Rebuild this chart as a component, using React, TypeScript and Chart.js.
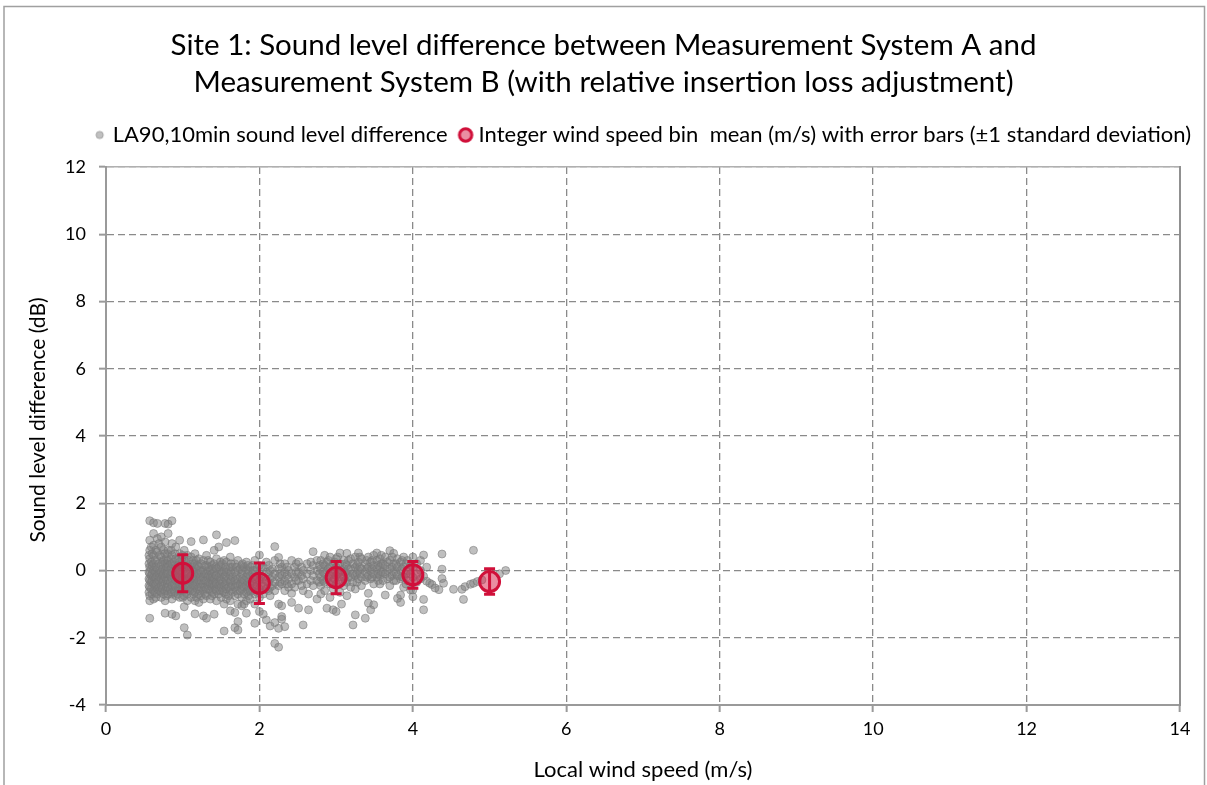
import React, { useEffect, useRef } from "react";
import { Chart, registerables } from "chart.js";

Chart.register(...registerables);

// ---- Data ----
const titleLines = [
  "Site 1: Sound level difference between Measurement System A and",
  "Measurement System B (with relative insertion loss adjustment)",
];
const scatterLabel = "LA90,10min sound level difference";
const meanLabel = "Integer wind speed bin  mean (m/s) with error bars (\u00b11 standard deviation)";
const xAxisTitle = "Local wind speed (m/s)";
const yAxisTitle = "Sound level difference (dB)";

const xTickValues = [0, 2, 4, 6, 8, 10, 12, 14];
const yTickValues = [-4, -2, 0, 2, 4, 6, 8, 10, 12];

// integer wind speed bins
const binCentres = [1, 2, 3, 4, 5];
const binMeans = [-0.08, -0.38, -0.21, -0.13, -0.33];
const binStdDev = [0.55, 0.6, 0.48, 0.4, 0.38];

// 10-minute samples: [wind speed, list of level differences at about that wind speed]
const samplesLowWind: [number, number[]][] = [
  [0.56, [0.45, 0.2, -0.05, -0.25, -0.45, -0.65]],
  [0.57, [1.48, 0.9, 0.6, 0.35, 0.1, -0.1, -0.3, -0.5, -0.75, -0.9, -1.42]],
  [0.59, [0.7, 0.25, 0.05, -0.15, -0.35, -0.55]],
  [0.6, [0.5, 0.15, -0.1, -0.3, -0.7]],
  [0.62, [1.42, 1.1, 0.75, 0.45, 0.2, 0.0, -0.2, -0.4, -0.6, -0.85]],
  [0.64, [0.3, -0.05, -0.25, -0.45, -0.65]],
  [0.65, [0.6, 0.1, -0.2, -0.4, -0.8]],
  [0.67, [1.4, 0.95, 0.55, 0.3, 0.05, -0.15, -0.35, -0.55, -0.7]],
  [0.69, [0.8, 0.2, -0.1, -0.3, -0.5]],
  [0.7, [0.45, 0.0, -0.2, -0.6]],
  [0.72, [1.0, 0.7, 0.4, 0.15, -0.05, -0.25, -0.45, -0.65, -0.8]],
  [0.74, [0.25, 0.05, -0.15, -0.35, -0.55]],
  [0.75, [0.6, 0.3, -0.1, -0.3, -0.7]],
  [0.77, [1.4, 0.85, 0.5, 0.2, 0.0, -0.2, -0.4, -0.6, -0.9, -1.27]],
  [0.79, [0.35, 0.1, -0.1, -0.3, -0.5, -0.75]],
  [0.8, [0.5, 0.2, -0.05, -0.4, -0.6]],
  [0.81, [1.38, 1.1, 0.6, 0.3, 0.1, -0.1, -0.3, -0.5, -0.7]],
  [0.84, [0.2, -0.15, -0.35, -0.55]],
  [0.85, [0.6, 0.35, 0.05, -0.2, -0.7]],
  [0.86, [1.48, 0.8, 0.45, 0.2, -0.05, -0.25, -0.45, -0.65, -0.85, -1.3]],
  [0.89, [0.25, 0.0, -0.2, -0.4, -0.6]],
  [0.9, [0.5, 0.15, -0.25, -0.45, -0.65]],
  [0.91, [0.7, 0.35, 0.1, -0.1, -0.3, -0.5, -0.75, -1.35]],
  [0.94, [0.15, -0.1, -0.3, -0.5, -0.7]],
  [0.95, [0.35, 0.05, -0.15, -0.55]],
  [0.96, [0.9, 0.5, 0.25, 0.0, -0.2, -0.4, -0.6, -0.8]],
  [0.99, [0.35, 0.1, -0.1, -0.3, -0.5]],
  [1.0, [0.45, 0.15, -0.2, -0.4, -0.6, -0.8]],
];

const samplesMidLowWind: [number, number[]][] = [
  [1.02, [0.6, 0.3, 0.05, -0.15, -0.35, -0.55, -0.75, -1.08, -1.7]],
  [1.04, [0.2, -0.05, -0.25, -0.45, -0.65]],
  [1.06, [0.45, 0.15, -0.1, -0.3, -0.5, -0.7, -0.9, -1.92]],
  [1.08, [0.3, 0.1, -0.3, -0.5]],
  [1.09, [0.05, -0.2, -0.4, -0.6]],
  [1.11, [0.86, 0.4, 0.1, -0.15, -0.35, -0.55, -0.8]],
  [1.13, [0.2, -0.1, -0.3, -0.6]],
  [1.14, [0.3, 0.0, -0.2, -0.45, -0.7]],
  [1.16, [0.5, 0.2, -0.05, -0.25, -0.45, -0.65, -0.9, -1.29]],
  [1.18, [0.3, 0.05, -0.2, -0.4, -0.8]],
  [1.19, [0.15, -0.1, -0.35, -0.55]],
  [1.21, [0.35, 0.1, -0.1, -0.3, -0.5, -0.7, -0.95]],
  [1.23, [0.0, -0.2, -0.4, -0.6]],
  [1.24, [0.2, -0.05, -0.3, -0.5, -0.75]],
  [1.27, [0.91, 0.3, 0.0, -0.2, -0.4, -0.6, -0.85, -1.35]],
  [1.29, [0.15, -0.1, -0.3, -0.5, -0.7]],
  [1.31, [0.45, 0.15, -0.1, -0.3, -0.55, -0.75, -1.42]],
  [1.33, [0.3, 0.0, -0.2, -0.45]],
  [1.34, [0.1, -0.15, -0.35, -0.55]],
  [1.36, [0.25, 0.0, -0.2, -0.4, -0.6, -0.85]],
  [1.38, [0.15, -0.1, -0.3, -0.5, -0.75]],
  [1.39, [0.05, -0.2, -0.4, -0.65]],
  [1.41, [0.6, 0.2, -0.05, -0.25, -0.45, -0.7, -1.3]],
  [1.43, [0.1, -0.15, -0.35, -0.55]],
  [1.44, [1.06, 0.35, 0.05, -0.15, -0.4, -0.6, -0.9]],
  [1.47, [0.7, 0.1, -0.2, -0.45, -0.7]],
  [1.49, [0.25, 0.0, -0.25, -0.4, -0.6]],
  [1.5, [0.15, -0.1, -0.3, -0.5, -0.8]],
  [1.52, [0.2, -0.05, -0.35, -0.6]],
  [1.54, [0.3, 0.0, -0.2, -0.45, -0.65, -1.0, -1.8]],
  [1.56, [0.1, -0.15, -0.4, -0.7]],
  [1.57, [0.83, 0.25, -0.05, -0.3, -0.55, -0.85]],
  [1.6, [0.0, -0.25, -0.5, -0.75]],
  [1.62, [0.4, 0.1, -0.15, -0.35, -0.6, -0.9, -1.2]],
  [1.63, [0.2, -0.05, -0.3, -0.5]],
  [1.65, [0.1, -0.2, -0.45, -0.65]],
  [1.68, [0.89, 0.2, -0.05, -0.3, -0.5, -0.75, -1.25, -1.7]],
  [1.7, [0.1, -0.15, -0.4, -0.6]],
  [1.72, [0.3, 0.0, -0.25, -0.45, -0.7, -1.0, -1.52, -1.77]],
  [1.75, [0.05, -0.2, -0.4, -0.6]],
  [1.77, [0.15, -0.1, -0.35, -0.55, -0.8, -1.05]],
  [1.78, [0.2, 0.0, -0.25, -0.45]],
  [1.8, [0.1, -0.3, -0.5, -0.7, -1.0]],
  [1.83, [0.25, 0.0, -0.2, -0.45, -0.65, -0.9, -1.27]],
  [1.85, [0.15, -0.1, -0.35, -0.6]],
  [1.86, [0.0, -0.25, -0.5, -0.75]],
  [1.88, [0.1, -0.15, -0.4, -0.6, -0.85]],
  [1.91, [0.15, -0.1, -0.35, -0.6]],
  [1.92, [0.0, -0.2, -0.4]],
  [1.94, [0.3, 0.0, -0.25, -0.5, -0.7, -1.0, -1.57]],
  [1.97, [0.05, -0.2, -0.45, -0.65]],
];

const samplesMidWind: [number, number[]][] = [
  [2.0, [0.46, 0.15, -0.1, -0.3, -0.55, -0.8, -1.22]],
  [2.02, [0.05, -0.2, -0.45]],
  [2.05, [0.1, -0.2, -0.45, -0.7, -1.3]],
  [2.09, [0.25, -0.05, -0.3, -0.55, -1.47]],
  [2.12, [0.15, -0.1, -0.35, -0.6]],
  [2.14, [0.0, -0.25, -0.5, -0.75, -1.65]],
  [2.17, [0.05, -0.2, -0.45]],
  [2.2, [0.71, 0.3, -0.1, -0.35, -0.6, -1.55, -2.17]],
  [2.25, [0.39, 0.05, -0.2, -0.45, -1.0, -1.72, -2.28]],
  [2.27, [0.2, -0.1, -0.35]],
  [2.29, [0.1, -0.15, -0.4, -1.05, -1.37, -1.45]],
  [2.33, [0.2, -0.05, -0.3, -0.6, -1.67]],
  [2.36, [0.1, -0.15, -0.4]],
  [2.38, [0.0, -0.25, -0.5]],
  [2.42, [0.3, -0.1, -0.4, -0.68, -0.95]],
  [2.46, [0.1, -0.2, -0.5]],
  [2.48, [0.2, -0.05, -0.3]],
  [2.51, [0.25, -0.05, -0.3, -1.12]],
  [2.55, [0.1, -0.15, -0.45]],
  [2.57, [0.0, -0.25, -0.6, -1.62]],
  [2.62, [0.2, -0.1, -0.4]],
  [2.64, [-0.7, -1.17]],
  [2.67, [0.25, 0.0, -0.3]],
  [2.7, [0.56, 0.15, -0.15, -0.45]],
  [2.75, [0.3, 0.0, -0.3, -0.85]],
  [2.78, [0.15, -0.1, -0.35]],
  [2.8, [0.3, 0.05, -0.2, -0.45, -0.7]],
  [2.83, [0.2, -0.05, -0.3]],
  [2.85, [0.45, 0.15, -0.1, -0.35, -0.6]],
  [2.88, [0.25, 0.0, -0.25, -1.12]],
  [2.9, [0.3, 0.05, -0.2]],
  [2.92, [0.4, 0.1, -0.15, -0.4, -0.8]],
  [2.96, [0.2, -0.05, -0.3, -0.55, -1.17]],
  [2.98, [0.25, 0.0, -0.25]],
];

const samplesHighWind: [number, number[]][] = [
  [3.0, [0.35, 0.1, -0.15, -0.4, -1.22]],
  [3.02, [0.4, 0.15, -0.1]],
  [3.05, [0.52, 0.2, -0.05, -0.3, -0.65]],
  [3.07, [0.0, -0.2, -1.0]],
  [3.1, [0.3, 0.05, -0.2, -0.45]],
  [3.12, [0.2, -0.05, -0.3]],
  [3.14, [0.51, 0.15, -0.1, -0.35, -0.75]],
  [3.16, [0.3, 0.05, -0.2]],
  [3.19, [0.35, 0.05, -0.2, -0.5]],
  [3.22, [0.2, -0.1, -0.35, -1.62]],
  [3.25, [0.4, 0.1, -0.15, -0.55, -1.32]],
  [3.27, [0.15, -0.1, -0.35]],
  [3.29, [0.52, 0.25, 0.0, -0.25]],
  [3.31, [0.4, 0.1, -0.1]],
  [3.33, [0.35, 0.05, -0.2, -0.45]],
  [3.38, [0.2, -0.05, -0.3, -1.42]],
  [3.4, [0.3, 0.05, -0.2]],
  [3.42, [0.4, 0.1, -0.15, -0.68, -0.97]],
  [3.45, [0.25, 0.0, -0.25, -1.17]],
  [3.47, [0.3, 0.05, -0.2]],
  [3.49, [0.45, 0.15, -0.1, -0.4, -1.02]],
  [3.53, [0.52, 0.3, 0.05, -0.2]],
  [3.55, [0.15, -0.1, -0.3]],
  [3.57, [0.35, 0.1, -0.15, -0.4]],
  [3.59, [0.45, 0.2, -0.05]],
  [3.61, [0.2, -0.05, -0.3]],
  [3.64, [0.4, 0.15, -0.1, -0.73]],
  [3.67, [0.25, 0.0, -0.25]],
  [3.7, [0.59, 0.3, 0.05, -0.2, -0.45]],
  [3.73, [0.4, 0.1, -0.15]],
  [3.75, [0.51, 0.2, -0.05, -0.3]],
  [3.78, [0.2, -0.05, -0.3]],
  [3.8, [0.35, 0.1, -0.15, -0.83]],
  [3.84, [0.25, 0.0, -0.25, -0.73, -0.95]],
  [3.86, [0.3, 0.05, -0.2]],
  [3.88, [0.4, 0.1, -0.2, -0.5]],
  [3.91, [0.2, -0.1, -0.4]],
  [3.93, [0.3, 0.0, -0.3]],
  [3.97, [0.15, -0.1, -0.58]],
  [4.0, [0.4, 0.1, -0.2, -0.58, -0.78]],
  [4.05, [0.2, -0.1, -0.35]],
  [4.1, [0.3, 0.0, -0.25]],
  [4.14, [0.46, -0.17, -0.86, -1.17]],
  [4.18, [0.1, -0.32]],
  [4.22, [-0.38]],
  [4.25, [-0.42]],
  [4.29, [-0.52]],
  [4.34, [-0.57]],
  [4.38, [0.49, 0.04, -0.24]],
  [4.4, [-0.38]],
  [4.53, [-0.56]],
  [4.64, [-0.56]],
  [4.66, [-0.86]],
  [4.68, [-0.48]],
  [4.75, [-0.41]],
  [4.79, [0.6, -0.38]],
  [4.84, [-0.33]],
  [4.9, [-0.28]],
  [5.13, [-0.1]],
  [5.21, [0.0]],
];

// ---- Styles ----
const FONT = "Lato, 'Noto Sans', sans-serif";
const CRIMSON = "#D0103A";
const CRIMSON_FILL = "rgba(214, 30, 70, 0.5)";
const GREY_FILL = "rgba(128,128,128,0.5)";
const GREY_EDGE = "rgba(120,120,120,0.55)";
const AXIS_GREY = "#9a9a9a";
const GRID_GREY = "#8a8a8a";

function makeMarker(r: number, fill: string, stroke: string, lw: number) {
  const c = document.createElement("canvas");
  const size = Math.ceil(2 * r + lw + 2);
  c.width = size;
  c.height = size;
  const g = c.getContext("2d")!;
  g.beginPath();
  g.arc(size / 2, size / 2, r, 0, Math.PI * 2);
  g.fillStyle = fill;
  g.fill();
  g.lineWidth = lw;
  g.strokeStyle = stroke;
  g.stroke();
  return c;
}

const framePlugin = {
  id: "outerFrame",
  beforeDraw(chart: any) {
    const { ctx, width, height } = chart;
    ctx.save();
    ctx.fillStyle = "#ffffff";
    ctx.fillRect(0, 0, width, height);
    ctx.strokeStyle = "#a0a0a0";
    ctx.lineWidth = 1.5;
    ctx.strokeRect(4, 6.5, width - 6.5, height + 20);
    ctx.restore();
  },
  afterDraw(chart: any) {
    // vertical axis title, placed as in the reference (slightly above centre)
    const { ctx, chartArea } = chart;
    ctx.save();
    ctx.translate(38, (chartArea.top + chartArea.bottom) / 2 - 16);
    ctx.rotate(-Math.PI / 2);
    ctx.fillStyle = "#000";
    ctx.font = `21px ${FONT}`;
    ctx.textAlign = "center";
    ctx.textBaseline = "middle";
    ctx.fillText(yAxisTitle, 0, 0);
    ctx.restore();
  },
};

const errorBarPlugin = {
  id: "errorBars",
  afterDatasetsDraw(chart: any) {
    const { ctx } = chart;
    const xs = chart.scales.x;
    const ys = chart.scales.y;
    ctx.save();
    ctx.strokeStyle = CRIMSON;
    ctx.lineWidth = 3;
    binCentres.forEach((b, i) => {
      const x = xs.getPixelForValue(b);
      const yt = ys.getPixelForValue(binMeans[i] + binStdDev[i]);
      const yb = ys.getPixelForValue(binMeans[i] - binStdDev[i]);
      ctx.beginPath();
      ctx.moveTo(x, yt);
      ctx.lineTo(x, yb);
      ctx.moveTo(x - 5.5, yt);
      ctx.lineTo(x + 5.5, yt);
      ctx.moveTo(x - 5.5, yb);
      ctx.lineTo(x + 5.5, yb);
      ctx.stroke();
    });
    ctx.restore();
  },
};

export default function App() {
  const ref = useRef<HTMLCanvasElement | null>(null);

  useEffect(() => {
    if (!ref.current) return;
    const samplePoints = [
      ...samplesLowWind,
      ...samplesMidLowWind,
      ...samplesMidWind,
      ...samplesHighWind,
    ].flatMap(([x, ys]) => ys.map((y) => ({ x, y })));
    const meanPoints = binCentres.map((x, i) => ({ x, y: binMeans[i] }));

    const legendImages = [
      makeMarker(3.6, "rgba(150,150,150,0.6)", "rgba(150,150,150,0.8)", 1),
      makeMarker(6.2, CRIMSON_FILL, CRIMSON, 3),
    ];

    const chart = new Chart(ref.current, {
      type: "scatter",
      data: {
        datasets: [
          {
            label: scatterLabel,
            data: samplePoints,
            pointRadius: 4,
            pointBackgroundColor: GREY_FILL,
            pointBorderColor: GREY_EDGE,
            pointBorderWidth: 1,
            order: 1,
          },
          {
            label: meanLabel,
            data: meanPoints,
            pointRadius: 10,
            pointBackgroundColor: CRIMSON_FILL,
            pointBorderColor: CRIMSON,
            pointBorderWidth: 3,
            order: 0,
          },
        ],
      },
      options: {
        responsive: false,
        animation: false,
        devicePixelRatio: 1,
        events: [],
        layout: { padding: { left: 0, right: 0, top: 0, bottom: 0 } },
        plugins: {
          tooltip: { enabled: false },
          title: {
            display: true,
            text: titleLines,
            color: "#000",
            font: { family: FONT, size: 29.5, weight: "normal", lineHeight: 1.254 },
            padding: { top: 26.5, bottom: 7.5 },
          },
          legend: {
            display: true,
            align: "end",
            labels: {
              color: "#000",
              font: { family: FONT, size: 22 },
              usePointStyle: true,
              boxWidth: 4,
              boxHeight: 4,
              padding: 16,
              sort: (a: any, b: any) => a.datasetIndex - b.datasetIndex,
              generateLabels: (c: any) =>
                (Chart.defaults.plugins.legend.labels as any)
                  .generateLabels(c)
                  .map((l: any) => ({ ...l, pointStyle: legendImages[l.datasetIndex] })),
            },
          },
        },
        scales: {
          x: {
            type: "linear",
            position: "bottom",
            min: xTickValues[0],
            max: xTickValues[xTickValues.length - 1],
            afterBuildTicks: (s: any) => {
              s.ticks = xTickValues.map((v) => ({ value: v }));
            },
            afterFit: (s: any) => {
              s.height = 80;
            },
            ticks: { color: "#000", font: { family: FONT, size: 18 }, padding: 6 },
            grid: {
              color: GRID_GREY,
              lineWidth: 1.3,
              tickLength: 7,
              tickColor: AXIS_GREY,
              tickWidth: 2,
            },
            border: { display: true, color: AXIS_GREY, width: 2, dash: [7, 4] },
            title: {
              display: true,
              text: xAxisTitle,
              color: "#000",
              font: { family: FONT, size: 22, lineHeight: 1.2 },
              padding: { top: 0, bottom: 2 },
            },
          },
          x2: {
            type: "linear",
            axis: "x",
            position: "top",
            display: true,
            ticks: { display: false },
            grid: { display: false },
            border: { display: true, color: "#b0b0b0", width: 1.5 },
            afterFit: (s: any) => {
              s.height = 11;
            },
          },
          y: {
            type: "linear",
            position: "left",
            min: yTickValues[0],
            max: yTickValues[yTickValues.length - 1],
            afterBuildTicks: (s: any) => {
              s.ticks = yTickValues.map((v) => ({ value: v }));
            },
            afterFit: (s: any) => {
              s.width = 106;
            },
            ticks: { color: "#000", font: { family: FONT, size: 18 }, padding: 13 },
            grid: {
              color: GRID_GREY,
              lineWidth: 1.3,
              tickLength: 7,
              tickColor: AXIS_GREY,
              tickWidth: 2,
            },
            border: { display: true, color: AXIS_GREY, width: 2, dash: [7, 4] },
            title: { display: false },
          },
          y2: {
            type: "linear",
            axis: "y",
            position: "right",
            display: true,
            ticks: { display: false },
            grid: { display: false },
            border: { display: true, color: "#909090", width: 2 },
            afterFit: (s: any) => {
              s.width = 27;
            },
          },
        },
      } as any,
      plugins: [framePlugin, errorBarPlugin],
    });
    return () => chart.destroy();
  }, []);

  return (
    <div style={{ position: "absolute", left: 0, top: 0, width: 1207, height: 785 }}>
      <canvas ref={ref} width={1207} height={785} style={{ display: "block" }} />
    </div>
  );
}
